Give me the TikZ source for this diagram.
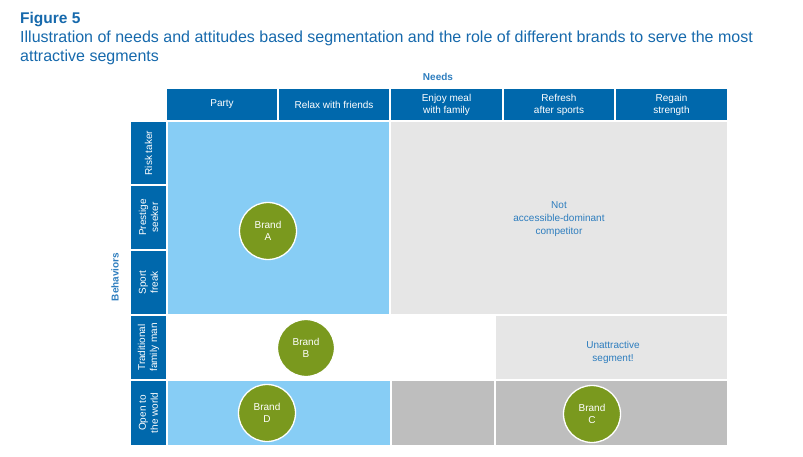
\documentclass[tikz,border=0pt]{standalone}
\usepackage{fontspec}
\setmainfont{Liberation Sans}
\begin{document}
\begin{tikzpicture}[x=1pt,y=-1pt,
  hdrtext/.style={text=white,font=\fontsize{10}{12}\selectfont,align=center},
  rowtext/.style={text=white,font=\fontsize{10}{12}\selectfont,align=center,rotate=90},
  brand/.style={circle,fill=brandgreen,draw=white,line width=1.3pt,minimum size=57pt,inner sep=0pt,text=white,font=\fontsize{10}{12.5}\selectfont,align=center},
  note/.style={text=notetext,font=\fontsize{10}{13}\selectfont,align=center}]
\definecolor{hdrblue}{RGB}{0,104,172}
\definecolor{titleblue}{RGB}{22,105,172}
\definecolor{lightblue}{RGB}{135,205,245}
\definecolor{lightgrey}{RGB}{230,230,230}
\definecolor{midgrey}{RGB}{190,190,190}
\definecolor{brandgreen}{RGB}{122,153,30}
\definecolor{notetext}{RGB}{45,125,190}
\useasboundingbox (0,0) rectangle (803,457);
% title
\node[anchor=base west,inner sep=0pt,text=titleblue,font=\bfseries\fontsize{15.5}{18}\selectfont] (fig) at (20,24) {Figure 5};
\node[anchor=base west,inner sep=0pt,text=titleblue,font=\fontsize{16}{18}\selectfont] (t1) at (20,43) {Illustration of needs and attitudes based segmentation and the role of different brands to serve the most};
\node[anchor=base west,inner sep=0pt,text=titleblue,font=\fontsize{16}{18}\selectfont] (t2) at (20,62) {attractive segments};
% axis labels
\node[text=notetext,font=\bfseries\fontsize{10}{12}\selectfont] (needs) at (438,77) {Needs};
\node[text=notetext,font=\bfseries\fontsize{10}{12}\selectfont,rotate=90] (beh) at (115,277) {Behaviors};
% header cells
\fill[hdrblue] (167,89) rectangle (277,120);
\fill[hdrblue] (279,89) rectangle (389,120);
\fill[hdrblue] (391,89) rectangle (502,120);
\fill[hdrblue] (504,89) rectangle (614,120);
\fill[hdrblue] (616,89) rectangle (727,120);
\node[hdrtext] (h1) at (222,104.5) {Party};
\node[hdrtext] (h2) at (334,104.5) {Relax with friends};
\node[hdrtext] (h3) at (446.5,104.5) {Enjoy meal\\with family};
\node[hdrtext] (h4) at (559,104.5) {Refresh\\after sports};
\node[hdrtext] (h5) at (671.5,104.5) {Regain\\strength};
% row label cells
\fill[hdrblue] (131,122) rectangle (166,184);
\fill[hdrblue] (131,186) rectangle (166,249);
\fill[hdrblue] (131,251) rectangle (166,314);
\fill[hdrblue] (131,316) rectangle (166,379);
\fill[hdrblue] (131,381) rectangle (166,445);
\node[rowtext] (r1) at (148.5,153) {Risk taker};
\node[rowtext] (r2) at (148.5,217.5) {Prestige\\seeker};
\node[rowtext] (r3) at (148.5,282.5) {Sport\\freak};
\node[rowtext] (r4) at (148.5,347.5) {Traditional\\family man};
\node[rowtext] (r5) at (148.5,413) {Open to\\the world};
% body cells
\fill[lightblue] (168,122) rectangle (389,314);
\fill[lightgrey] (391,122) rectangle (727,314);
\fill[lightgrey] (496,316) rectangle (727,379);
\fill[lightblue] (168,381) rectangle (390,445);
\fill[midgrey] (392,381) rectangle (494,445);
\fill[midgrey] (496,381) rectangle (727,445);
% notes
\node[note] (n1) at (559,219) {Not\\accessible-dominant\\competitor};
\node[note] (n2) at (613,352) {Unattractive\\segment!};
% brands
\node[brand] (bA) at (268,231) {Brand\\A};
\node[brand] (bB) at (306,348) {Brand\\B};
\node[brand] (bD) at (267,413) {Brand\\D};
\node[brand] (bC) at (592,414) {Brand\\C};
\end{tikzpicture}
\end{document}
